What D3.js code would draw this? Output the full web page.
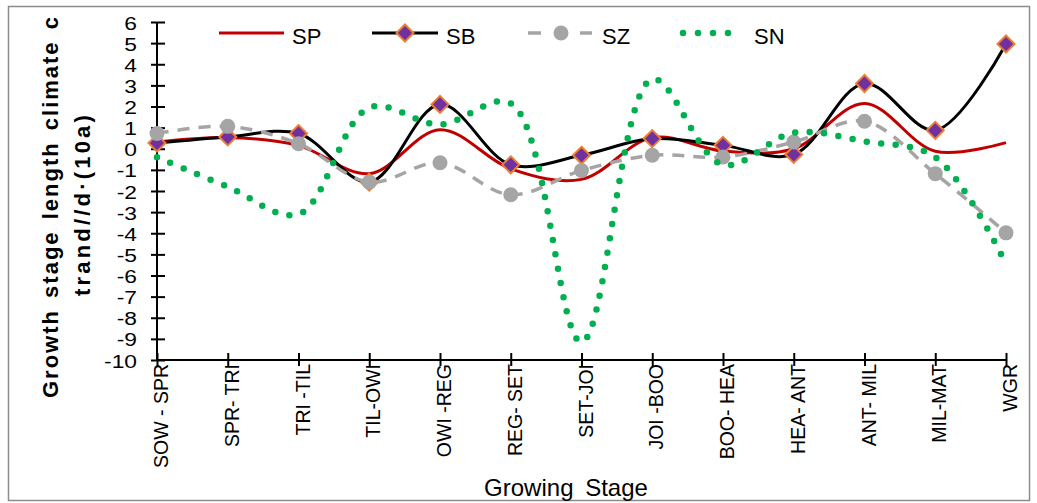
<!DOCTYPE html>
<html>
<head>
<meta charset="utf-8">
<script src="https://cdn.jsdelivr.net/npm/d3@7"></script>
<style>
  html, body { margin: 0; padding: 0; background: #fff; }
  svg { display: block; }
</style>
</head>
<body>
<svg id="chart" width="1037" height="503"></svg>
<script>
// ---- data ----
const categories = ["SOW - SPR", "SPR- TRI", "TRI -TIL", "TIL-OWI", "OWI -REG", "REG- SET", "SET-JOI",
                    "JOI -BOO", "BOO- HEA", "HEA- ANT", "ANT- MIL", "MIL-MAT", "WGR"];
const seriesNames = ["SP", "SB", "SZ", "SN"];
const spValues = [0.32, 0.53, 0.15, -1.18, 0.9, -0.95, -1.45, 0.53, -0.11, 0.0, 2.14, -0.12, 0.29];
const sbValues = [0.27, 0.56, 0.72, -1.58, 2.1, -0.76, -0.31, 0.48, 0.16, -0.27, 3.09, 0.87, 4.96];
const szValues = [0.72, 1.06, 0.24, -1.58, -0.66, -2.18, -1.03, -0.31, -0.39, 0.32, 1.3, -1.18, -3.98];
const snValues = [-0.4, -1.8, -3.1, 1.95, 1.15, 2.15, -9.15, 3.3, -0.76, 0.76, 0.35, -0.4, -5.45];
const yTicks = [6, 5, 4, 3, 2, 1, 0, -1, -2, -3, -4, -5, -6, -7, -8, -9, -10];
const yTitleLine1 = "Growth stage length climate change";
const yTitleLine2 = "trand//d·(10a)";
const xTitle = "Growing Stage";

const svg = d3.select("#chart");

// outer border
svg.append("rect").attr("x", 8.5).attr("y", 6.5).attr("width", 1021).attr("height", 494)
  .attr("fill", "none").attr("stroke", "#8c8c8c").attr("stroke-width", 1.5);

const x = d3.scalePoint().domain(categories).range([157, 1006]).padding(0);
const y = d3.scaleLinear().domain([-10, 6]).range([360, 22]);

const tickFont = "'Liberation Sans', Arial, sans-serif";

// y axis
const yAxisG = svg.append("g").attr("transform", "translate(157,0)");
yAxisG.call(d3.axisLeft(y).tickValues(yTicks).tickSize(0).tickFormat(d3.format("d")));
yAxisG.select(".domain").remove();
yAxisG.selectAll(".tick text").remove();
yAxisG.append("line").attr("x1", 0).attr("x2", 0).attr("y1", y(6)).attr("y2", y(-10))
  .attr("stroke", "#000").attr("stroke-width", 2);
yAxisG.selectAll(".tick").append("line").attr("x1", -6).attr("x2", 8)
  .attr("stroke", "#000").attr("stroke-width", 2);
yAxisG.selectAll(".tick").append("text")
  .attr("transform", "translate(-20,7) scale(1.2,1)")
  .attr("x", 0).attr("y", 0).attr("text-anchor", "end")
  .attr("font-family", tickFont).attr("font-size", 19).attr("fill", "#000")
  .text(d => d);

// x axis
const xAxisG = svg.append("g").attr("transform", `translate(0,${y(-10)})`);
xAxisG.call(d3.axisBottom(x).tickSize(0).tickFormat(""));
xAxisG.select(".domain").remove();
xAxisG.append("line").attr("x1", x(categories[0])).attr("x2", x(categories[categories.length - 1]))
  .attr("stroke", "#000").attr("stroke-width", 2);
xAxisG.selectAll(".tick").append("line").attr("y1", -7).attr("y2", 6)
  .attr("stroke", "#000").attr("stroke-width", 2);
xAxisG.selectAll(".tick").append("text")
  .attr("transform", "translate(0,4) rotate(-90)")
  .attr("x", 0).attr("y", 10.5).attr("text-anchor", "end")
  .attr("font-family", tickFont).attr("font-size", 19.5).attr("fill", "#000")
  .text(d => d);

// axis titles
svg.append("text").attr("x", 566).attr("y", 496).attr("text-anchor", "middle")
  .attr("font-family", tickFont).attr("font-size", 24).attr("word-spacing", 5)
  .attr("fill", "#000").text(xTitle);

svg.append("clipPath").attr("id", "titleClip").append("rect")
  .attr("x", 10).attr("y", 17).attr("width", 120).attr("height", 480);
const yTitleG = svg.append("g").attr("clip-path", "url(#titleClip)");
yTitleG.append("text").attr("transform", "translate(58,398) rotate(-90)")
  .attr("text-anchor", "start").attr("font-family", tickFont)
  .attr("font-weight", "bold").attr("font-size", 22).attr("letter-spacing", 2).attr("word-spacing", 3)
  .attr("fill", "#000").text(yTitleLine1);
yTitleG.append("text").attr("transform", "translate(90,204) rotate(-90)")
  .attr("text-anchor", "middle").attr("font-family", tickFont)
  .attr("font-weight", "bold").attr("font-size", 22).attr("letter-spacing", 3.2)
  .attr("fill", "#000").text(yTitleLine2);

// series
const curve = d3.curveCatmullRom.alpha(0.5);
const line = d3.line().x((d, i) => x(categories[i])).y(d => y(d)).curve(curve);

const colors = { SP: "#C00000", SB: "#000000", SZ: "#A5A5A5", SN: "#00B050" };
const diamond = (cx, cy, r) => `M${cx},${cy - r}L${cx + r},${cy}L${cx},${cy + r}L${cx - r},${cy}Z`;

// SP
svg.append("path").datum(spValues).attr("d", line)
  .attr("fill", "none").attr("stroke", colors.SP).attr("stroke-width", 3);
// SB
svg.append("path").datum(sbValues).attr("d", line)
  .attr("fill", "none").attr("stroke", colors.SB).attr("stroke-width", 3);
svg.append("g").selectAll("path").data(sbValues).join("path")
  .attr("d", (d, i) => diamond(x(categories[i]), y(d), 8.5))
  .attr("fill", "#7030A0").attr("stroke", "#ED7D31").attr("stroke-width", 2);
// SZ
svg.append("path").datum(szValues).attr("d", line)
  .attr("fill", "none").attr("stroke", colors.SZ).attr("stroke-width", 3.5)
  .attr("stroke-dasharray", "12,9");
svg.append("g").selectAll("circle").data(szValues).join("circle")
  .attr("cx", (d, i) => x(categories[i])).attr("cy", d => y(d)).attr("r", 7.5)
  .attr("fill", colors.SZ);
// SN
svg.append("path").datum(snValues).attr("d", line)
  .attr("fill", "none").attr("stroke", colors.SN).attr("stroke-width", 6.5)
  .attr("stroke-linecap", "round").attr("stroke-dasharray", "0,14.5");

// legend
const legFont = "'Liberation Sans Narrow', 'Liberation Sans', sans-serif";
const ly = 33;
const leg = svg.append("g");
leg.append("line").attr("x1", 219).attr("x2", 284).attr("y1", ly).attr("y2", ly)
  .attr("stroke", colors.SP).attr("stroke-width", 3);
leg.append("line").attr("x1", 372).attr("x2", 438).attr("y1", ly).attr("y2", ly)
  .attr("stroke", colors.SB).attr("stroke-width", 3);
leg.append("path").attr("d", diamond(405, ly, 8.5)).attr("fill", "#7030A0")
  .attr("stroke", "#ED7D31").attr("stroke-width", 2);
leg.append("line").attr("x1", 528).attr("x2", 592).attr("y1", ly).attr("y2", ly)
  .attr("stroke", colors.SZ).attr("stroke-width", 3.5).attr("stroke-dasharray", "13,39,13");
leg.append("circle").attr("cx", 561).attr("cy", ly).attr("r", 7.5).attr("fill", colors.SZ);
leg.append("line").attr("x1", 683).attr("x2", 743).attr("y1", ly).attr("y2", ly)
  .attr("stroke", colors.SN).attr("stroke-width", 6.5).attr("stroke-linecap", "round")
  .attr("stroke-dasharray", "0,15");
const legText = [[292, "SP"], [446, "SB"], [602, "SZ"], [754, "SN"]];
leg.selectAll("text").data(legText).join("text")
  .attr("x", d => d[0]).attr("y", ly + 11)
  .attr("font-family", legFont).attr("font-size", 22).attr("fill", "#000")
  .text((d, i) => seriesNames[i]);
</script>
</body>
</html>
